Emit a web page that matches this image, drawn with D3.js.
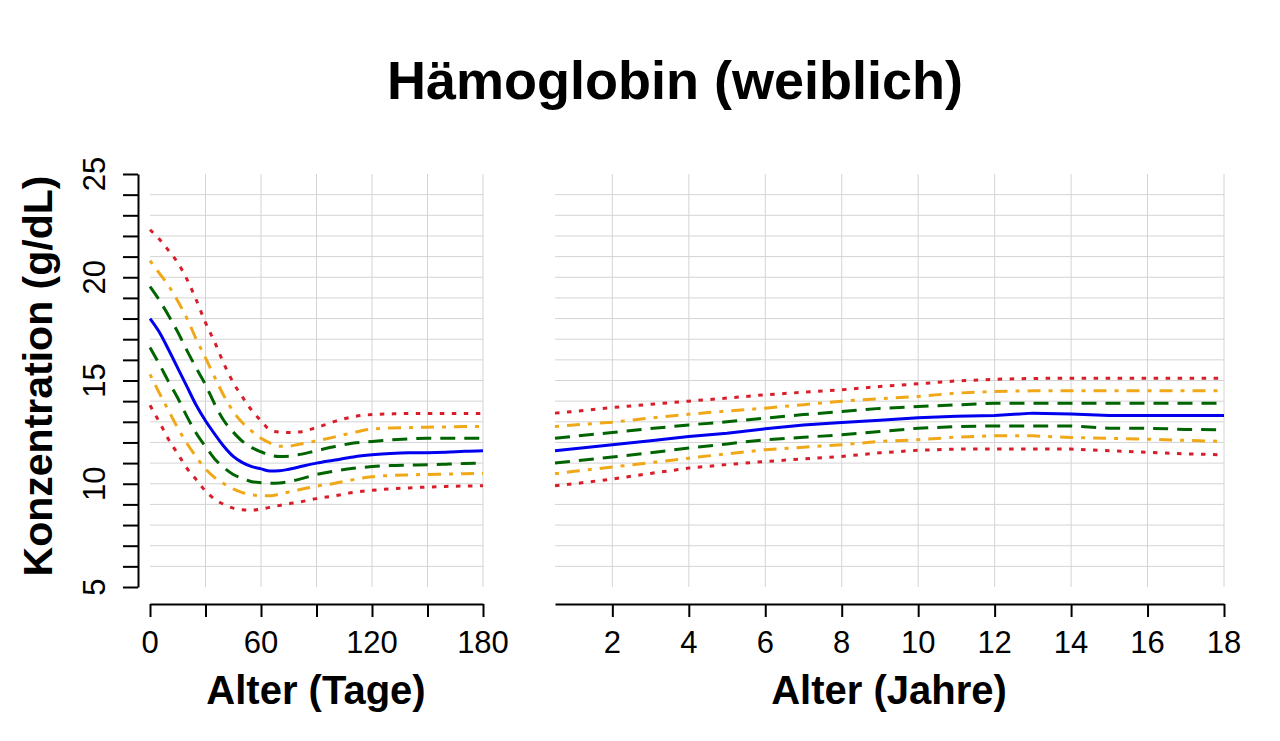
<!DOCTYPE html>
<html>
<head>
<meta charset="utf-8">
<script src="https://cdn.jsdelivr.net/npm/d3@7"></script>
<style>
  body { margin: 0; background: #fff; }
  text { font-family: "Liberation Sans", Arial, sans-serif; fill: #000; }
</style>
</head>
<body>
<script>
// Age grid of the two panels
var tage = [0, 5, 10, 15, 20, 25, 30, 35, 40, 45, 50, 55, 60, 65, 70, 75, 80, 90, 100, 110, 120, 130, 140, 150, 160, 170, 180];
var jahre = [0.5, 1, 2, 3, 4, 5, 6, 7, 8, 9, 10, 11, 12, 13, 14, 15, 16, 17, 18];

// Percentile curves, first 180 days (g/dL)
var tageP975 = [22.3, 21.85, 21.3, 20.7, 19.9, 18.9, 17.8, 16.85, 15.8, 14.9, 14.2, 13.55, 13.05, 12.6, 12.5, 12.48, 12.5, 12.72, 13.02, 13.25, 13.35, 13.38, 13.4, 13.4, 13.4, 13.4, 13.4];
var tageP90  = [20.8, 20.2, 19.6, 18.85, 18.0, 17.0, 16.1, 15.15, 14.25, 13.5, 12.95, 12.55, 12.2, 11.97, 11.82, 11.82, 11.9, 12.08, 12.27, 12.48, 12.65, 12.7, 12.72, 12.74, 12.75, 12.77, 12.78];
var tageP75  = [19.55, 18.9, 18.15, 17.35, 16.45, 15.6, 14.8, 13.85, 13.05, 12.5, 12.05, 11.75, 11.55, 11.38, 11.32, 11.33, 11.4, 11.6, 11.8, 11.97, 12.05, 12.12, 12.17, 12.2, 12.2, 12.2, 12.2];
var tageP50  = [18.0, 17.35, 16.5, 15.6, 14.7, 13.8, 13.05, 12.4, 11.8, 11.32, 11.02, 10.83, 10.72, 10.62, 10.63, 10.7, 10.8, 11.0, 11.15, 11.3, 11.4, 11.47, 11.5, 11.5, 11.52, 11.57, 11.6];
var tageP25  = [16.6, 15.8, 14.95, 14.15, 13.25, 12.45, 11.8, 11.2, 10.78, 10.45, 10.25, 10.1, 10.05, 10.03, 10.04, 10.1, 10.2, 10.45, 10.62, 10.75, 10.83, 10.88, 10.9, 10.92, 10.95, 10.98, 11.0];
var tageP10  = [15.3, 14.4, 13.55, 12.7, 11.95, 11.3, 10.72, 10.3, 10.0, 9.75, 9.57, 9.47, 9.42, 9.42, 9.5, 9.6, 9.7, 9.88, 10.02, 10.2, 10.34, 10.4, 10.43, 10.45, 10.47, 10.49, 10.5];
var tageP025 = [13.8, 13.0, 12.15, 11.45, 10.75, 10.2, 9.65, 9.25, 9.0, 8.82, 8.74, 8.72, 8.78, 8.86, 8.95, 9.03, 9.1, 9.28, 9.42, 9.58, 9.68, 9.75, 9.8, 9.84, 9.87, 9.89, 9.9];

// Percentile curves, 0.5 to 18 years (g/dL)
var jahreP975 = [13.42, 13.5, 13.69, 13.85, 14.0, 14.15, 14.31, 14.43, 14.55, 14.71, 14.84, 14.98, 15.06, 15.1, 15.11, 15.11, 15.11, 15.11, 15.11];
var jahreP90  = [12.77, 12.85, 12.98, 13.18, 13.37, 13.52, 13.66, 13.83, 14.0, 14.12, 14.23, 14.39, 14.47, 14.5, 14.5, 14.5, 14.5, 14.5, 14.5];
var jahreP75  = [12.2, 12.3, 12.48, 12.67, 12.85, 13.0, 13.18, 13.35, 13.5, 13.65, 13.74, 13.82, 13.9, 13.9, 13.9, 13.9, 13.9, 13.9, 13.9];
var jahreP50  = [11.6, 11.7, 11.89, 12.08, 12.29, 12.45, 12.66, 12.85, 12.97, 13.08, 13.2, 13.27, 13.31, 13.42, 13.38, 13.31, 13.31, 13.31, 13.31];
var jahreP25  = [11.0, 11.1, 11.29, 11.5, 11.73, 11.93, 12.13, 12.25, 12.37, 12.53, 12.69, 12.77, 12.8, 12.8, 12.8, 12.69, 12.69, 12.63, 12.61];
var jahreP10  = [10.48, 10.6, 10.81, 11.02, 11.24, 11.45, 11.65, 11.77, 11.89, 12.05, 12.13, 12.26, 12.32, 12.32, 12.24, 12.2, 12.16, 12.1, 12.05];
var jahreP025 = [9.9, 10.0, 10.23, 10.5, 10.76, 10.93, 11.08, 11.2, 11.32, 11.5, 11.62, 11.68, 11.68, 11.68, 11.68, 11.6, 11.52, 11.45, 11.4];

// Ticks and grid
var yTicks = d3.range(5, 26, 1);
var yLabels = [5, 10, 15, 20, 25];
var yGrid = d3.range(6, 25, 1);
var tageTicks = [0, 30, 60, 90, 120, 150, 180];
var tageLabels = [0, 60, 120, 180];
var tageGrid = [30, 60, 90, 120, 150, 180];
var jahreTicks = [2, 4, 6, 8, 10, 12, 14, 16, 18];

var width = 1280, height = 741;
var svg = d3.select("body").append("svg").attr("width", width).attr("height", height);

var y = d3.scaleLinear().domain([5, 25]).range([587, 174]);
var xTage = d3.scaleLinear().domain([0, 180]).range([150, 483]);
var xJahre = d3.scaleLinear().domain([0.5, 18]).range([555, 1224]);

var gridColor = "#d4d4d4";

// grid lines for one panel
function grid(x, xs) {
    var g = svg.append("g");
    g.selectAll(".h").data(yGrid).enter().append("line")
        .attr("x1", x.range()[0]).attr("x2", x.range()[1])
        .attr("y1", d => y(d)).attr("y2", d => y(d))
        .style("stroke", gridColor).style("stroke-width", 1);
    g.selectAll(".v").data(xs).enter().append("line")
        .attr("x1", d => x(d)).attr("x2", d => x(d))
        .attr("y1", y(25)).attr("y2", y(5))
        .style("stroke", gridColor).style("stroke-width", 1);
}
grid(xTage, tageGrid);
grid(xJahre, jahreTicks);

// line styles: dotted red, dot-dash orange, dashed green, solid blue
var styles = [
    { color: "#d81e2a", dash: "4.5,7.5" },
    { color: "#f0a818", dash: "4,8,13,8" },
    { color: "#006400", dash: "15,9" },
    { color: "#0000ee", dash: null },
    { color: "#006400", dash: "15,9" },
    { color: "#f0a818", dash: "4,8,13,8" },
    { color: "#d81e2a", dash: "4.5,7.5" }
];

function curves(xs, x, series, curve) {
    var line = d3.line().x((d, i) => x(xs[i])).y(d => y(d)).curve(curve);
    series.forEach(function(s, k) {
        svg.append("path")
            .attr("d", line(s))
            .style("fill", "none")
            .style("stroke", styles[k].color)
            .style("stroke-width", 3)
            .style("stroke-dasharray", styles[k].dash);
    });
}
curves(tage, xTage, [tageP975, tageP90, tageP75, tageP50, tageP25, tageP10, tageP025], d3.curveMonotoneX);
curves(jahre, xJahre, [jahreP975, jahreP90, jahreP75, jahreP50, jahreP25, jahreP10, jahreP025], d3.curveLinear);

// y axis
var yAxis = svg.append("g").attr("transform", "translate(138,0)")
    .call(d3.axisLeft(y).tickValues(yTicks).tickSize(15).tickSizeOuter(0).tickFormat(""));
yAxis.selectAll("path, line").style("stroke", "#000").style("stroke-width", 2);

svg.selectAll(".ylab").data(yLabels).enter().append("text")
    .attr("transform", d => "translate(105," + y(d) + ") rotate(-90)")
    .attr("text-anchor", "middle")
    .style("font-size", "31px")
    .text(d => d);

// x axes
function xAxis(x, ticks, labels) {
    var g = svg.append("g").attr("transform", "translate(0,604)")
        .call(d3.axisBottom(x).tickValues(ticks).tickSize(13).tickSizeOuter(0).tickFormat(""));
    g.selectAll("path, line").style("stroke", "#000").style("stroke-width", 2);
    svg.selectAll(null).data(labels).enter().append("text")
        .attr("x", d => x(d)).attr("y", 653)
        .attr("text-anchor", "middle")
        .style("font-size", "31px")
        .text(d => d);
}
xAxis(xTage, tageTicks, tageLabels);
xAxis(xJahre, jahreTicks, jahreTicks);

// titles
svg.append("text").attr("x", 675).attr("y", 99).attr("text-anchor", "middle")
    .style("font-size", "54px").style("font-weight", "bold")
    .text("Hämoglobin (weiblich)");
svg.append("text").attr("x", 316).attr("y", 704).attr("text-anchor", "middle")
    .style("font-size", "40px").style("font-weight", "bold")
    .text("Alter (Tage)");
svg.append("text").attr("x", 889).attr("y", 704).attr("text-anchor", "middle")
    .style("font-size", "40px").style("font-weight", "bold")
    .text("Alter (Jahre)");
svg.append("text").attr("transform", "translate(52,376) rotate(-90)").attr("text-anchor", "middle")
    .style("font-size", "41px").style("font-weight", "bold")
    .text("Konzentration (g/dL)");
</script>
</body>
</html>
